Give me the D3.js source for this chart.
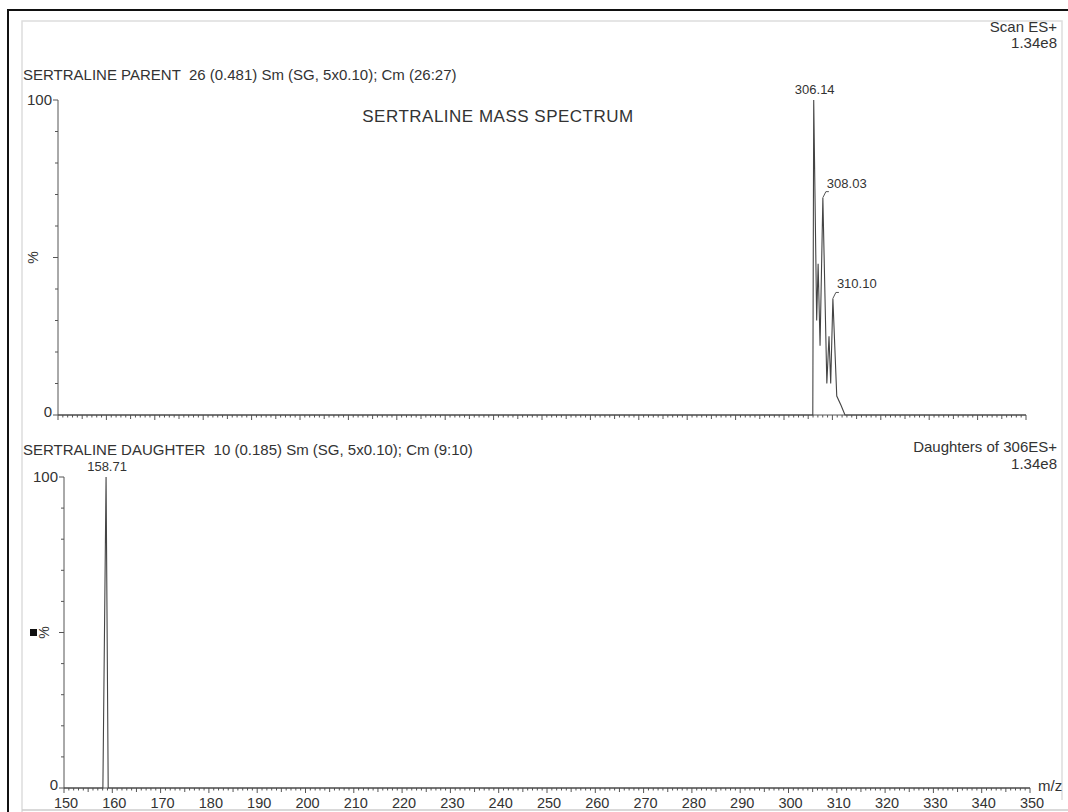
<!DOCTYPE html>
<html>
<head>
<meta charset="utf-8">
<script src="https://cdn.jsdelivr.net/npm/d3@7"></script>
<style>
  body { margin: 0; background: #fff; }
  svg text { font-family: "Liberation Sans", Arial, sans-serif; fill: #333; white-space: pre; }
  .trace { fill: none; stroke: #444; stroke-width: 1.1; }
  .axisLine { stroke: #555; stroke-width: 1; fill: none; }
</style>
</head>
<body>
<div id="chart"></div>
<script>
// spectrum data (m/z, relative intensity %)
var parentMz  = [150, 305.95, 306.14, 306.75, 307.05, 307.45, 308.03, 308.85, 309.3, 309.65, 310.10, 310.9, 311.8, 312.6, 350];
var parentInt = [0,   0,      100,    30,     48,     22,     69,     10,     25,    10,     37,     6,     3,     0,     0];
var daughterMz  = [150, 158.05, 158.71, 159.15, 350];
var daughterInt = [0,   0,      100,    0,      0];
// labelled peaks
var parentPeaks = [{mz: 306.14, pct: 100, label: "306.14"}, {mz: 308.03, pct: 69, label: "308.03"}, {mz: 310.10, pct: 37, label: "310.10"}];
var daughterPeaks = [{mz: 158.71, pct: 100, label: "158.71"}];
var xTickLabels = [150, 160, 170, 180, 190, 200, 210, 220, 230, 240, 250, 260, 270, 280, 290, 300, 310, 320, 330, 340, 350];

var svgWidth = 1068, svgHeight = 812;
var svg = d3.select("#chart").append("svg")
  .attr("width", svgWidth).attr("height", svgHeight);

// scanned page frame
svg.append("path").attr("d", "M8,812 L8,10 L1068,10").attr("stroke", "#111").attr("stroke-width", 2).attr("fill", "none");
svg.append("path").attr("d", "M22,812 L22,21 L1062,21 L1062,800").attr("stroke", "#ddd").attr("stroke-width", 1.5).attr("fill", "none");
svg.append("line").attr("x1", 22).attr("x2", 1068).attr("y1", 810).attr("y2", 810).attr("stroke", "#ccc").attr("stroke-width", 1.5);

// draws one spectrum panel
function drawPanel(mz, inten, peaks, xRange, yRange, showLabels, pctOffset) {
  var x = d3.scaleLinear().domain([150, 350]).range(xRange);
  var y = d3.scaleLinear().domain([0, 100]).range(yRange);
  var g = svg.append("g");

  // ruler-style x axis: tick every unit, longer every 5 / 10
  g.append("line").attr("class", "axisLine")
    .attr("x1", x(150)).attr("x2", x(350)).attr("y1", y(0)).attr("y2", y(0));
  var ticks = d3.range(150, 351, 1);
  g.selectAll(".xt").data(ticks).enter().append("line")
    .attr("class", "axisLine")
    .attr("stroke-width", 0.8)
    .attr("x1", d => x(d)).attr("x2", d => x(d))
    .attr("y1", y(0))
    .attr("y2", d => y(0) + (d % 10 == 0 ? 5 : d % 5 == 0 ? 4 : 2.5));
  if (showLabels) {
    g.selectAll(".xl").data(xTickLabels).enter().append("text")
      .attr("x", d => x(d) + 2).attr("y", y(0) + 20)
      .attr("text-anchor", "middle").attr("font-size", 14.5)
      .text(d => d);
  }

  // y axis with minor ticks every 10
  g.append("line").attr("class", "axisLine")
    .attr("x1", x(150)).attr("x2", x(150)).attr("y1", y(0)).attr("y2", y(100));
  g.selectAll(".yl").data([0, 100]).enter().append("text")
    .attr("x", x(150) - 6).attr("y", d => y(d) + (d == 0 ? 2 : 5))
    .attr("text-anchor", "end").attr("font-size", 15)
    .text(d => d);
  g.selectAll(".yt").data(d3.range(0, 101, 10)).enter().append("line")
    .attr("class", "axisLine").attr("stroke-width", 0.8)
    .attr("x1", x(150)).attr("x2", d => x(150) - (d % 50 == 0 ? 5 : 3))
    .attr("y1", d => y(d)).attr("y2", d => y(d));
  g.append("text")
    .attr("transform", `translate(${x(150) - pctOffset}, ${y(50)}) rotate(-90)`)
    .attr("text-anchor", "middle").attr("font-size", 14)
    .text("%");

  // the spectrum trace
  var pts = mz.map((m, i) => [m, inten[i]]);
  g.append("path").attr("class", "trace")
    .attr("d", d3.line().x(d => x(d[0])).y(d => y(d[1]))(pts));

  // peak labels, with leader lines for the smaller ones
  peaks.forEach(function(p, i) {
    var px = x(p.mz), py = y(p.pct);
    if (p.pct >= 100) {
      g.append("text").attr("x", px + 1).attr("y", py - 6)
        .attr("text-anchor", "middle").attr("font-size", 13).text(p.label);
    } else {
      g.append("path").attr("class", "axisLine")
        .attr("d", `M${px},${py} L${px + 3},${py - 6} L${px + 6},${py - 6}`);
      g.append("text").attr("x", px + 4).attr("y", py - 10)
        .attr("font-size", 13).text(p.label);
    }
  });
  return {x: x, y: y};
}

// top: parent scan
drawPanel(parentMz, parentInt, parentPeaks, [58, 1026], [415, 100], false, 20);
svg.append("text").attr("x", 1057).attr("y", 32).attr("text-anchor", "end").attr("font-size", 15).text("Scan ES+");
svg.append("text").attr("x", 1057).attr("y", 48).attr("text-anchor", "end").attr("font-size", 15).text("1.34e8");
svg.append("text").attr("x", 23).attr("y", 80).attr("font-size", 15)
  .text("SERTRALINE PARENT  26 (0.481) Sm (SG, 5x0.10); Cm (26:27)");
svg.append("text").attr("x", 498).attr("y", 122).attr("text-anchor", "middle").attr("font-size", 17)
  .attr("letter-spacing", 0.5)
  .text("SERTRALINE MASS SPECTRUM");

// bottom: daughter scan
var bottom = drawPanel(daughterMz, daughterInt, daughterPeaks, [64, 1030], [788, 477], true, 15);
svg.append("text").attr("x", 23).attr("y", 455).attr("font-size", 15)
  .text("SERTRALINE DAUGHTER  10 (0.185) Sm (SG, 5x0.10); Cm (9:10)");
svg.append("text").attr("x", 1057).attr("y", 452).attr("text-anchor", "end").attr("font-size", 15).text("Daughters of 306ES+");
svg.append("text").attr("x", 1057).attr("y", 469).attr("text-anchor", "end").attr("font-size", 15).text("1.34e8");
svg.append("text").attr("x", 1038).attr("y", 791).attr("font-size", 15).text("m/z");
// little black mark left of the % label on the scan
svg.append("rect").attr("x", 30).attr("y", 629).attr("width", 7).attr("height", 7).attr("fill", "#111");
</script>
</body>
</html>
